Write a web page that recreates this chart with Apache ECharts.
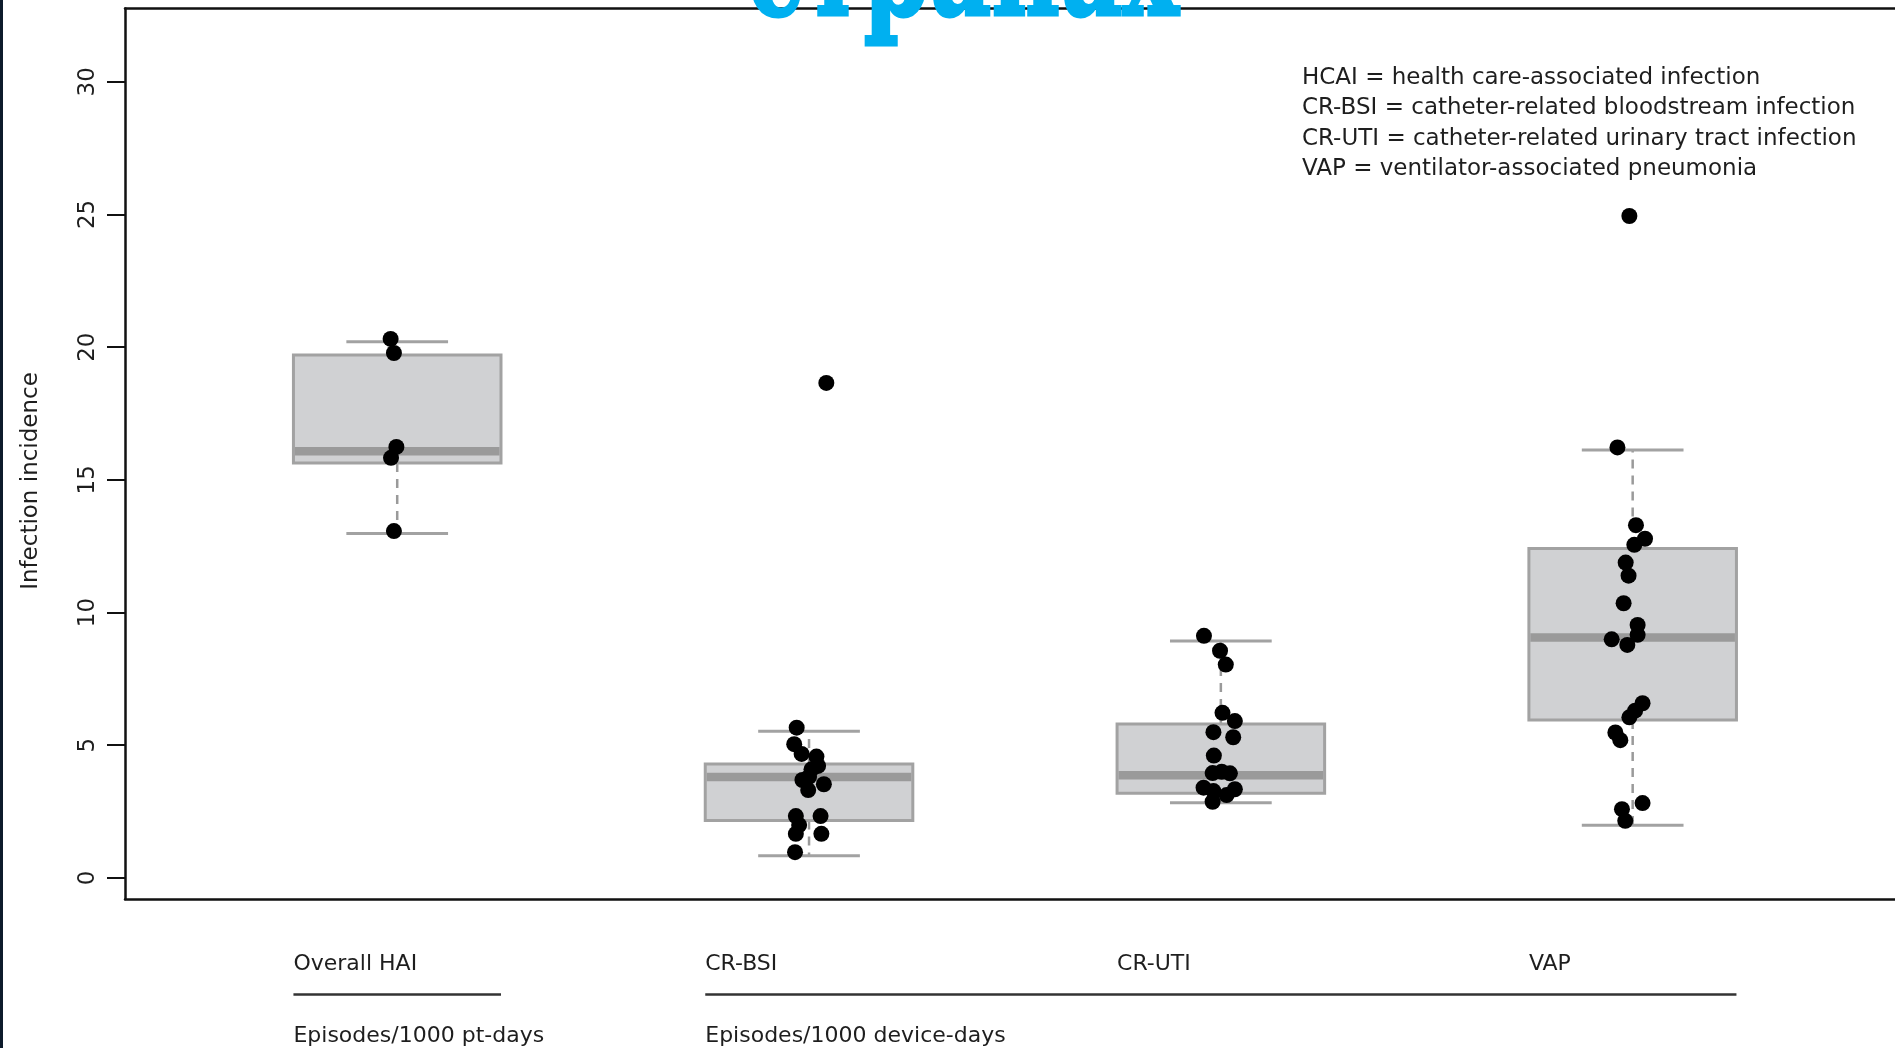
<!DOCTYPE html>
<html>
<head>
<meta charset="utf-8">
<script src="https://cdn.jsdelivr.net/npm/echarts@6/dist/echarts.min.js"></script>
<style>
html,body{margin:0;padding:0;background:#ffffff;}
#c{width:1895px;height:1048px;}
</style>
</head>
<body>
<div id="c"></div>
<script>
// ---------------- DATA ----------------
const categories = ['Overall HAI', 'CR-BSI', 'CR-UTI', 'VAP'];
const unitGroups = ['Episodes/1000 pt-days', 'Episodes/1000 device-days'];
const unitGroupFirst = [0, 1];   // first category index of each unit group
const unitGroupLast = [0, 3];    // last category index of each unit group

// box statistics (whisker low, Q1, median, Q3, whisker high)
const boxLow    = [12.98, 0.83, 2.83, 1.98];
const boxQ1     = [15.63, 2.16, 3.19, 5.95];
const boxMedian = [16.08, 3.80, 3.87, 9.06];
const boxQ3     = [19.70, 4.29, 5.80, 12.41];
const boxHigh   = [20.20, 5.53, 8.93, 16.12];

// individual observations and their horizontal jitter (category units)
const haiValues = [20.31, 19.78, 16.24, 15.83, 13.07];
const haiJitter = [-0.016, -0.008, -0.002, -0.015, -0.008];

const bsiValues = [18.65, 5.66, 5.04, 4.67, 4.57, 4.22, 4.09, 3.81, 3.69, 3.53, 3.31, 2.33, 2.33, 1.99, 1.66, 1.66, 0.97];
const bsiJitter = [0.042, -0.030, -0.036, -0.018, 0.018, 0.022, 0.006, 0.000, -0.016, 0.036, -0.002, -0.032, 0.028, -0.024, -0.032, 0.030, -0.034];

const utiValues = [9.12, 8.56, 8.04, 6.22, 5.91, 5.49, 5.30, 4.61, 3.95, 4.00, 3.94, 3.40, 3.27, 3.12, 3.34, 2.87];
const utiJitter = [-0.041, -0.002, 0.012, 0.004, 0.034, -0.018, 0.030, -0.017, -0.020, 0.002, 0.022, -0.042, -0.018, 0.014, 0.034, -0.020];

const vapValues = [24.94, 16.22, 13.29, 12.78, 12.55, 11.88, 11.39, 10.35, 9.53, 9.16, 8.99, 8.78, 6.58, 6.30, 6.05, 5.48, 5.19, 2.82, 2.59, 2.15];
const vapJitter = [-0.008, -0.037, 0.008, 0.030, 0.004, -0.017, -0.010, -0.022, 0.012, 0.012, -0.051, -0.013, 0.024, 0.006, -0.008, -0.042, -0.030, 0.024, -0.026, -0.018];

const yTicks = [0, 5, 10, 15, 20, 25, 30];
const yAxisTitle = 'Infection incidence';
const legendLines = [
  'HCAI = health care-associated infection',
  'CR-BSI = catheter-related bloodstream infection',
  'CR-UTI = catheter-related urinary tract infection',
  'VAP = ventilator-associated pneumonia'
];
const slideTitle = 'странах';

// ---------------- STYLE / LAYOUT ----------------
const FONT = 'DejaVu Sans';
const TEXT_COLOR = '#1e1e1e';
const BOX_HALF = 0.252;
const CAP_HALF = 0.1235;
const GREY = '#a2a2a2';
const X_MIN = 0.339, X_MAX = 4.637;
const FRAME = {color: '#111111', width: 2.5};

const boxData = categories.map((c, i) => [i + 1, boxLow[i], boxQ1[i], boxMedian[i], boxQ3[i], boxHigh[i]]);
const pointSets = [[haiValues, haiJitter], [bsiValues, bsiJitter], [utiValues, utiJitter], [vapValues, vapJitter]];
const pointData = [];
pointSets.forEach(([vals, jit], i) => vals.forEach((v, k) => pointData.push([i + 1 + jit[k], v])));

function renderBox(params, api) {
  const x = api.value(0);
  const low = api.value(1), q1 = api.value(2), med = api.value(3), q3 = api.value(4), high = api.value(5);
  const cx = api.coord([x, low])[0];
  const yLow = api.coord([x, low])[1];
  const yQ1 = api.coord([x, q1])[1];
  const yMed = api.coord([x, med])[1];
  const yQ3 = api.coord([x, q3])[1];
  const yHigh = api.coord([x, high])[1];
  const bL = api.coord([x - BOX_HALF, q3])[0];
  const bR = api.coord([x + BOX_HALF, q3])[0];
  const cL = api.coord([x - CAP_HALF, q3])[0];
  const cR = api.coord([x + CAP_HALF, q3])[0];
  const dash = {stroke: '#9a9a9a', lineWidth: 2.5, lineDash: [9, 7]};
  return {
    type: 'group',
    children: [
      {type: 'line', shape: {x1: cx, y1: yQ3, x2: cx, y2: yHigh}, style: dash},
      {type: 'line', shape: {x1: cx, y1: yQ1, x2: cx, y2: yLow}, style: dash},
      {type: 'line', shape: {x1: cL, y1: yHigh, x2: cR, y2: yHigh}, style: {stroke: GREY, lineWidth: 3}},
      {type: 'line', shape: {x1: cL, y1: yLow, x2: cR, y2: yLow}, style: {stroke: GREY, lineWidth: 3}},
      {type: 'rect', shape: {x: bL, y: yQ3, width: bR - bL, height: yQ1 - yQ3},
        style: {fill: '#d0d1d3', stroke: GREY, lineWidth: 3}},
      {type: 'line', shape: {x1: bL + 1.5, y1: yMed, x2: bR - 1.5, y2: yMed},
        style: {stroke: '#9a9a9a', lineWidth: 8.5}}
    ]
  };
}

const chart = echarts.init(document.getElementById('c'), null, {renderer: 'canvas'});

const frameAxis = (pos) => ({
  type: 'value', position: pos, min: X_MIN, max: X_MAX,
  axisLine: {show: true, onZero: false, lineStyle: FRAME},
  axisTick: {show: false}, axisLabel: {show: false}, splitLine: {show: false}
});

const option = {
  animation: false,
  backgroundColor: '#ffffff',
  grid: {left: 125, top: 8.5, right: 0, bottom: 149, show: false},
  xAxis: [frameAxis('bottom'), frameAxis('top')],
  yAxis: {
    type: 'value', min: -0.795, max: 32.76,
    axisLine: {show: true, onZero: false, lineStyle: FRAME},
    splitLine: {show: false},
    axisTick: {show: true, length: 18, lineStyle: {color: '#111111', width: 2}, customValues: yTicks},
    axisLabel: {show: true, rotate: 90, margin: 25, fontSize: 23, fontFamily: FONT,
      color: TEXT_COLOR, customValues: yTicks, formatter: v => String(v)}
  },
  series: [
    {type: 'custom', renderItem: renderBox, data: boxData, encode: {x: 0, y: [1, 2, 3, 4, 5]}, z: 2, silent: true},
    {type: 'scatter', data: pointData, symbol: 'circle', symbolSize: 16,
      itemStyle: {color: '#000000', opacity: 1}, z: 3, silent: true}
  ]
};
chart.setOption(option);

// ---------------- ANNOTATIONS ----------------
function px(x, y) { return chart.convertToPixel({xAxisIndex: 0, yAxisIndex: 0}, [x, y]); }

const g = [];
g.push({type: 'rect', x: 0, y: 0, shape: {width: 3, height: 1048}, style: {fill: '#0d1b2b'}, z: 100});

g.push({type: 'text', x: 31, y: 481, rotation: Math.PI / 2, z: 100,
  style: {text: yAxisTitle, fontSize: 23, fontFamily: FONT, fill: TEXT_COLOR, align: 'center', verticalAlign: 'middle'}});

const legendY = [78, 108.5, 139, 169.5];
legendLines.forEach((t, i) => {
  g.push({type: 'text', x: 1302, y: legendY[i], z: 100,
    style: {text: t, fontSize: 23, fontFamily: FONT, fill: TEXT_COLOR, align: 'left', verticalAlign: 'middle'}});
});

categories.forEach((c, i) => {
  const left = px(i + 1 - BOX_HALF, 0)[0];
  g.push({type: 'text', x: left, y: 964, z: 100,
    style: {text: c, fontSize: 22, fontFamily: FONT, fill: TEXT_COLOR, align: 'left', verticalAlign: 'middle'}});
});

unitGroups.forEach((u, j) => {
  const l = px(unitGroupFirst[j] + 1 - BOX_HALF, 0)[0];
  const r = px(unitGroupLast[j] + 1 + BOX_HALF, 0)[0];
  g.push({type: 'line', z: 100, shape: {x1: l, y1: 994.6, x2: r, y2: 994.6}, style: {stroke: '#333333', lineWidth: 2.5}});
  g.push({type: 'text', x: l, y: 1036.5, z: 100,
    style: {text: u, fontSize: 22, fontFamily: FONT, fill: TEXT_COLOR, align: 'left', verticalAlign: 'middle'}});
});

// title (cut at top edge) — heavy slab serif, fitted to the visible width and descender depth
const TITLE_FONT = 'DejaVu Serif';
const TITLE_WIDTH = 432, TITLE_BASELINE = 28, TITLE_DESCENDER = 30;
const mctx = document.createElement('canvas').getContext('2d');
mctx.font = 'bold 100px "' + TITLE_FONT + '"';
const descR = mctx.measureText('р').actualBoundingBoxDescent || 23;
const titleSize = 100 * TITLE_DESCENDER / descR;
mctx.font = 'bold ' + titleSize + 'px "' + TITLE_FONT + '"';
const mt = mctx.measureText(slideTitle);
const titleScaleX = TITLE_WIDTH / (mt.width || TITLE_WIDTH);
const midOff = (mt.fontBoundingBoxAscent !== undefined)
  ? (mt.fontBoundingBoxAscent - mt.fontBoundingBoxDescent) / 2 : 0.346 * titleSize;
g.push({type: 'text', x: 963, y: TITLE_BASELINE - midOff, scaleX: titleScaleX, z: 200,
  style: {text: slideTitle, fontSize: titleSize, fontFamily: TITLE_FONT, fontWeight: 'bold',
    fill: '#00b0f0', stroke: '#00b0f0', lineWidth: 3, align: 'center', verticalAlign: 'middle'}});

chart.setOption({graphic: g});
</script>
</body>
</html>
